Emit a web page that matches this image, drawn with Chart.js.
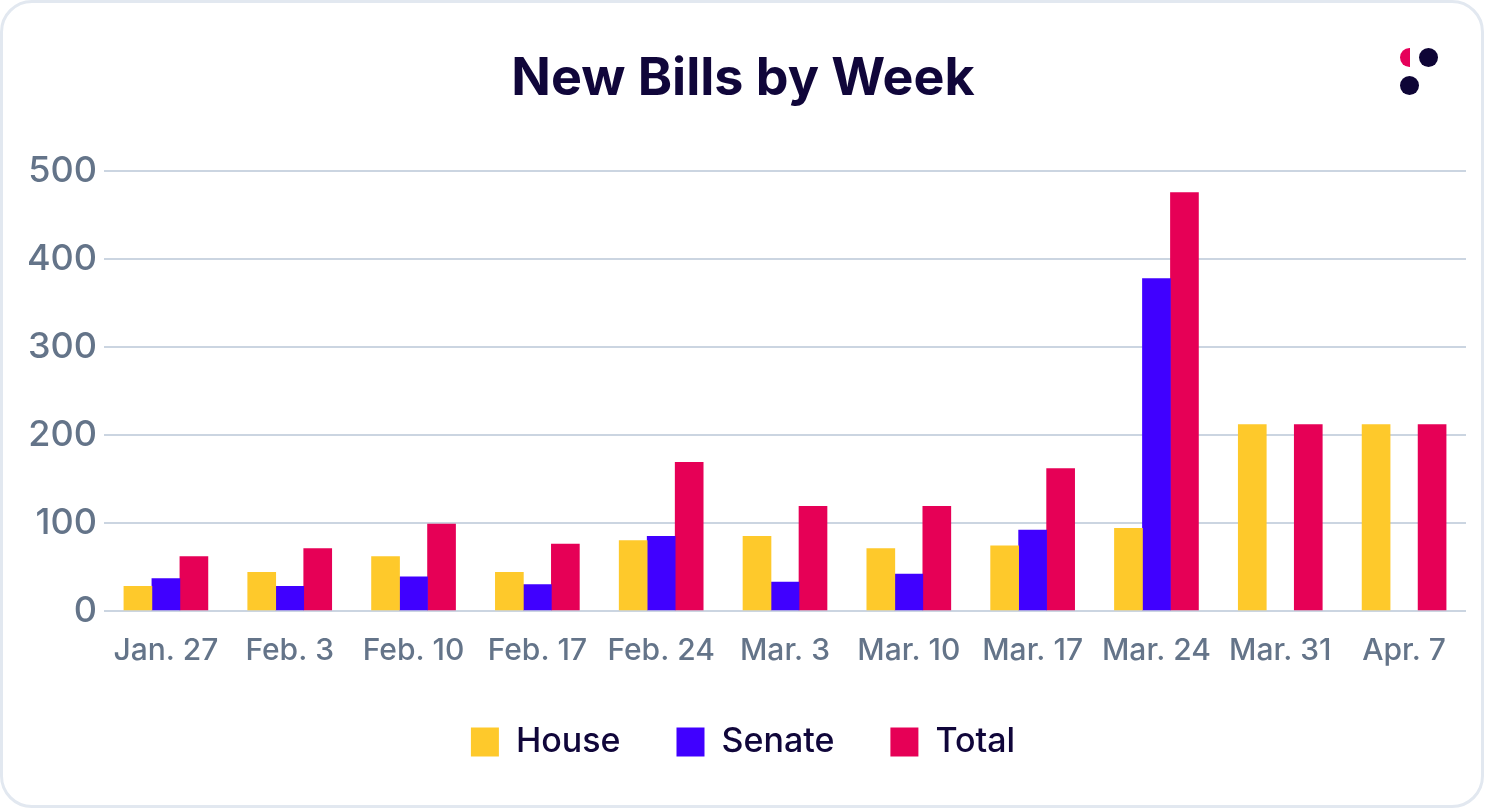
<!DOCTYPE html>
<html>
<head>
<meta charset="utf-8">
<script src="https://cdn.jsdelivr.net/npm/chart.js@4"></script>
<style>
  html, body { margin: 0; padding: 0; background: #ffffff; }
  #wrap { position: relative; width: 1486px; height: 808px; overflow: hidden; }
  #card { position: absolute; left: 0; top: 0; width: 1484px; height: 808px; box-sizing: border-box;
          border: 3px solid #e2e8f0; border-radius: 32px; pointer-events: none; }
  .dot { position: absolute; width: 19px; height: 19px; border-radius: 50%; background: #0e0536; }
  .half { position: absolute; width: 10px; height: 19px; border-radius: 10px 0 0 10px; background: #e6005a; }
</style>
</head>
<body>
<div id="wrap">
  <canvas id="bills-by-week-bar-chart" width="1486" height="808"></canvas>
  <div id="card"></div>
  <div class="half" style="left:1400px; top:48px;"></div>
  <div class="dot" style="left:1419px; top:48px;"></div>
  <div class="dot" style="left:1400px; top:76px;"></div>
</div>
<script>
const labelWeek = ["Jan. 27","Feb. 3","Feb. 10","Feb. 17","Feb. 24","Mar. 3","Mar. 10","Mar. 17","Mar. 24","Mar. 31","Apr. 7"]
const labelHouse = [28,44,62,44,80,85,71,74,94,212,212]
const labelSenate = [37,28,39,30,85,33,42,92,378,null,null]
const labelTotal = [62,71,99,76,169,119,119,162,476,212,212]
const tickValues = [0,100,200,300,400,500]

const inkColor = "#10063a"
const tickColor = "#647489"

const dataObj = {
    labels: labelWeek,
    datasets: [
        { label: "House", data: labelHouse, backgroundColor: "#fec92b" },
        { label: "Senate", data: labelSenate, backgroundColor: "#4000ff" },
        { label: "Total", data: labelTotal, backgroundColor: "#e60056" }
    ]
}

new Chart("bills-by-week-bar-chart", {
    type: "bar",
    data: dataObj,
    options: {
        responsive: false,
        animation: false,
        layout: { padding: { left: 20, right: 20, top: 0, bottom: 39 } },
        datasets: { bar: { barThickness: 28, borderWidth: 0 } },
        plugins: {
            tooltip: { enabled: false },
            title: {
                display: true,
                text: "New Bills by Week",
                color: inkColor,
                font: { family: "Inter", size: 52, weight: "700" },
                padding: { top: 48, bottom: 61 }
            },
            legend: {
                position: "bottom",
                labels: {
                    color: inkColor,
                    font: { family: "Inter", size: 34, weight: "500" },
                    boxWidth: 28,
                    boxHeight: 29,
                    padding: 56
                }
            }
        },
        scales: {
            x: {
                afterFit: function (scale) { scale.height = 58 },
                grid: { display: false, drawTicks: false },
                border: { display: false },
                ticks: {
                    color: tickColor,
                    font: { family: "Inter", size: 30, weight: "500" },
                    padding: 22,
                    maxRotation: 0,
                    autoSkip: false
                }
            },
            y: {
                min: 0,
                max: 500,
                afterBuildTicks: function (scale) {
                    scale.ticks = tickValues.map(function (v) { return { value: v } })
                },
                afterFit: function (scale) { scale.width = 84 },
                grid: { color: "#cbd5e1", lineWidth: 2, drawTicks: false },
                border: { display: false },
                ticks: {
                    color: tickColor,
                    font: { family: "Inter", size: 36, weight: "500" },
                    padding: 7
                }
            }
        }
    }
});
</script>
</body>
</html>
